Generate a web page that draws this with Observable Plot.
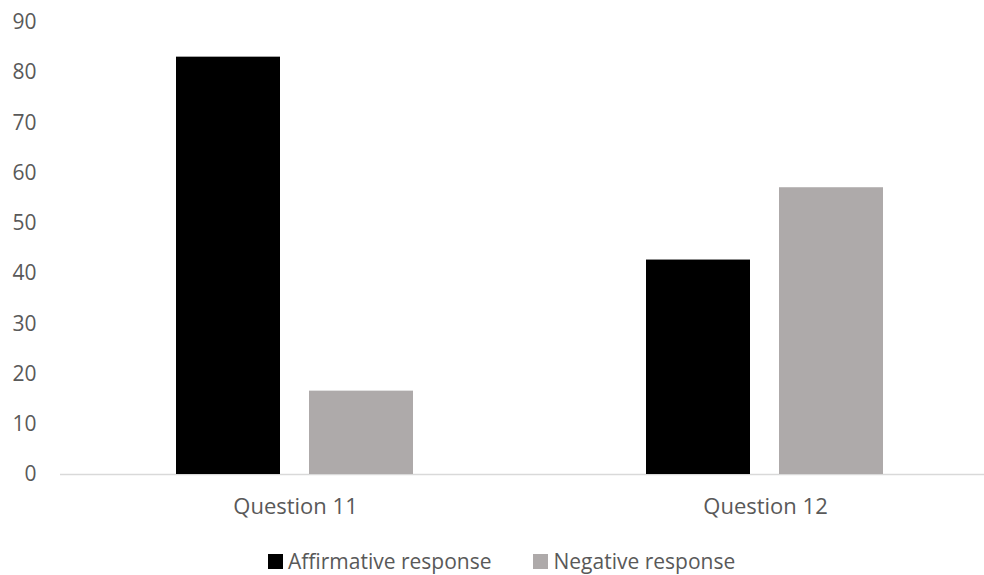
<!DOCTYPE html>
<html>
<head>
<meta charset="utf-8">
<script src="https://cdn.jsdelivr.net/npm/d3@7"></script>
<script src="https://cdn.jsdelivr.net/npm/@observablehq/plot@0.6"></script>
<style>
  html, body { margin: 0; padding: 0; background: #fff; }
  #chart { width: 984px; height: 575px; overflow: hidden; position: relative; font-family: "Open Sans", sans-serif; }
  #legend { display: flex; align-items: center; padding-left: 268px; padding-top: 17px; height: 28px;
            font-size: 21px; line-height: 28px; color: #595959; }
  .sw { width: 15px; height: 15px; display: inline-block; margin-right: 5px; }
  .item { display: flex; align-items: center; margin-right: 42px; }
  svg g[aria-label="fx-axis tick label"] text { font-size: 22px; }
</style>
</head>
<body>
<div id="chart"></div>
<script>
const questions = ["Question 11", "Question 12"];
const series = ["Affirmative response", "Negative response"];
const affirmative = [83.1, 42.7];
const negative = [16.6, 57.1];
const yTicks = [0, 10, 20, 30, 40, 50, 60, 70, 80, 90];
const colors = ["#000000", "#aeaaaa"];

const data = questions.flatMap((q, i) => [
  {question: q, series: series[0], value: affirmative[i]},
  {question: q, series: series[1], value: negative[i]}
]);

const plot = Plot.plot({
  width: 984,
  height: 530,
  marginLeft: 60,
  marginRight: 0,
  marginTop: 22,
  marginBottom: 56,
  style: {fontFamily: "Open Sans", fontSize: "21px", color: "#595959", background: "white", overflow: "hidden"},
  fx: {domain: questions, range: [60, 1000], padding: 0, label: null, axis: "bottom", tickSize: 0, tickPadding: 24},
  x: {domain: series, paddingInner: 0.216, paddingOuter: 0.863, axis: null},
  y: {domain: [0, 90], ticks: yTicks, tickSize: 0, tickPadding: 24, label: null},
  color: {domain: series, range: colors},
  marks: [
    Plot.ruleY([0], {stroke: "#d9d9d9", strokeWidth: 1.5}),
    Plot.barY(data, {fx: "question", x: "series", y: "value", fill: "series"})
  ]
});

const chart = document.getElementById("chart");
chart.appendChild(plot);

const legend = document.createElement("div");
legend.id = "legend";
series.forEach((s, i) => {
  const item = document.createElement("span");
  item.className = "item";
  const sw = document.createElement("span");
  sw.className = "sw";
  sw.style.background = colors[i];
  item.appendChild(sw);
  item.appendChild(document.createTextNode(s));
  legend.appendChild(item);
});
chart.appendChild(legend);
</script>
</body>
</html>
